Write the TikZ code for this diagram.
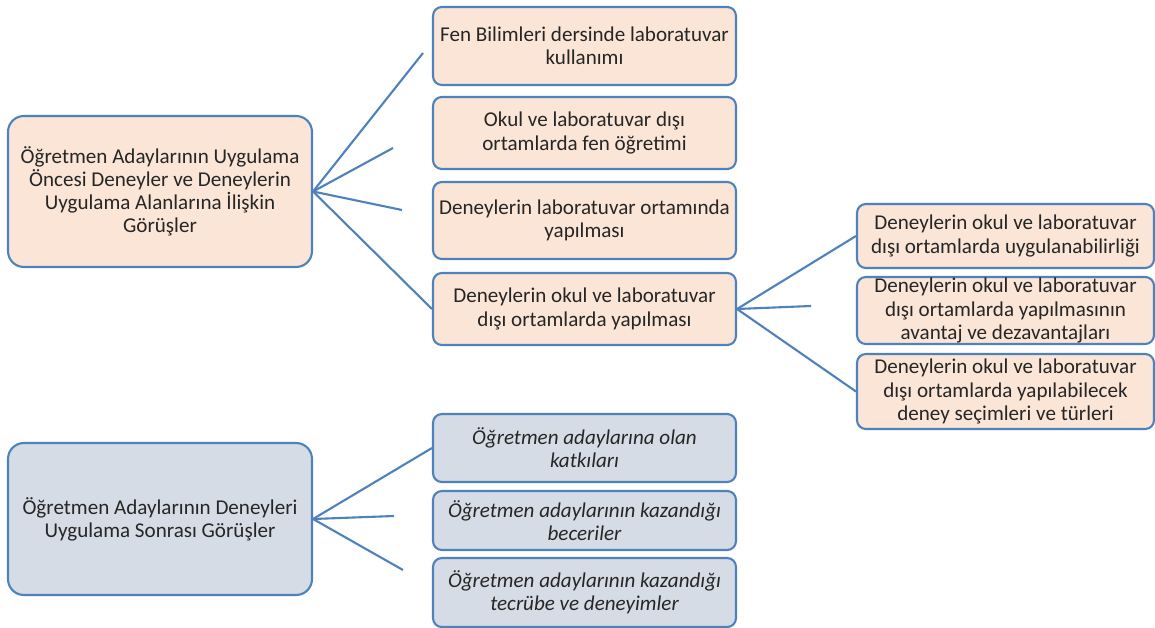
\documentclass[tikz,border=0pt]{standalone}
\usepackage{fontspec}
\setmainfont{Carlito}
\definecolor{boxline}{RGB}{79,129,189}
\definecolor{peach}{RGB}{251,229,214}
\definecolor{slate}{RGB}{214,220,229}
\begin{document}
\begin{tikzpicture}[x=0.02cm,y=-0.02cm,
			box/.style={draw=boxline,line width=1.2pt,rounded corners=5pt,align=center,inner sep=0pt,text=black!85,font=\fontsize{12}{13.2}\selectfont},
			bigbox/.style={box,rounded corners=9pt,minimum width=6.08cm},
			midbox/.style={box,minimum width=6.06cm},
			rightbox/.style={box,minimum width=5.94cm},
			slant/.style={font=\fontsize{12}{13.2}\selectfont\itshape},
			link/.style={draw=boxline,line width=1.2pt}]
			\useasboundingbox (0,0) rectangle (1155,628);
			\node [bigbox,fill=peach,minimum height=3.02cm] (pre) at (160,191.5) {Öğretmen Adaylarının Uygulama\\Öncesi Deneyler ve Deneylerin\\Uygulama Alanlarına İlişkin\\Görüşler};
			\node [bigbox,fill=slate,minimum height=3.04cm] (post) at (160,519) {Öğretmen Adaylarının Deneyleri\\Uygulama Sonrası Görüşler};
			\node [midbox,fill=peach,minimum height=1.56cm] (lab) at (584.5,46) {Fen Bilimleri dersinde laboratuvar\\kullanımı};
			\node [midbox,fill=peach,minimum height=1.44cm] (okul) at (584.5,133) {Okul ve laboratuvar dışı\\ortamlarda fen öğretimi};
			\node [midbox,fill=peach,minimum height=1.54cm] (ortam) at (584.5,220.5) {Deneylerin laboratuvar ortamında\\yapılması};
			\node [midbox,fill=peach,minimum height=1.44cm] (disi) at (584.5,309) {Deneylerin okul ve laboratuvar\\dışı ortamlarda yapılması};
			\node [rightbox,fill=peach,minimum height=1.28cm] (uyg) at (1005.5,236) {Deneylerin okul ve laboratuvar\\dışı ortamlarda uygulanabilirliği};
			\node [rightbox,fill=peach,minimum height=1.34cm] (avan) at (1005.5,310.5) {Deneylerin okul ve laboratuvar\\dışı ortamlarda yapılmasının\\avantaj ve dezavantajları};
			\node [rightbox,fill=peach,minimum height=1.5cm] (secim) at (1005.5,391.5) {Deneylerin okul ve laboratuvar\\dışı ortamlarda yapılabilecek\\deney seçimleri ve türleri};
			\node [midbox,slant,fill=slate,minimum height=1.36cm] (katki) at (584.5,448) {Öğretmen adaylarına olan\\katkıları};
			\node [midbox,slant,fill=slate,minimum height=1.18cm] (beceri) at (584.5,520.5) {Öğretmen adaylarının kazandığı\\beceriler};
			\node [midbox,slant,fill=slate,minimum height=1.38cm] (tecrube) at (584.5,592.5) {Öğretmen adaylarının kazandığı\\tecrübe ve deneyimler};
			\coordinate (e1) at (423,53);
			\coordinate (e2) at (393,148);
			\coordinate (e3) at (402,210);
			\coordinate (e4) at (811,306);
			\coordinate (e5) at (394,516);
			\coordinate (e6) at (403,570);
			\draw [link] (pre.east) -- (e1);
			\draw [link] (pre.east) -- (e2);
			\draw [link] (pre.east) -- (e3);
			\draw [link] (pre.east) -- (disi.west);
			\draw [link] (disi.east) -- (uyg.west);
			\draw [link] (disi.east) -- (e4);
			\draw [link] (disi.east) -- (secim.west);
			\draw [link] (post.east) -- (katki.west);
			\draw [link] (post.east) -- (e5);
			\draw [link] (post.east) -- (e6);
\end{tikzpicture}
\end{document}
